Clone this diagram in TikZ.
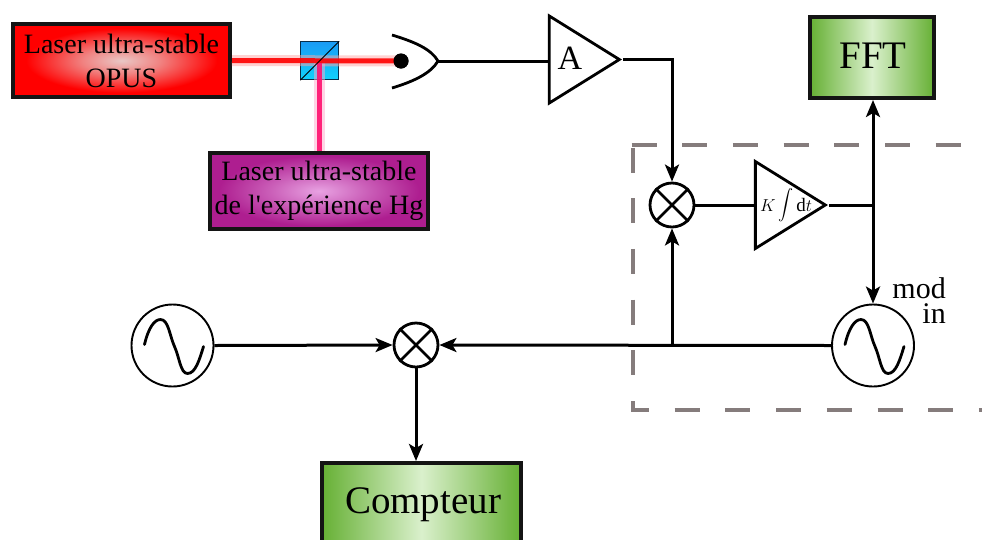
\documentclass[tikz,border=0pt]{standalone}
\usepackage{fontspec}
\usepackage{graphicx}
\setmainfont{Liberation Serif}
\newfontfamily\rawserif{Liberation Serif}
\usetikzlibrary{arrows.meta,shapes.geometric}
\definecolor{dashgray}{HTML}{857C7C}
\definecolor{glowred}{HTML}{E9C8C6}
\definecolor{glowpurple}{HTML}{E8A2E2}
\definecolor{basepurple}{HTML}{AE1E90}
\definecolor{edgegreen}{HTML}{66B034}
\definecolor{midgreen}{HTML}{DAF0CC}
\definecolor{cubetop}{HTML}{1A9BF5}
\definecolor{cubebottom}{HTML}{10D2FC}
\definecolor{hgbeamcol}{HTML}{FF0F6E}
\pgfdeclareradialshading{redglow}{\pgfpointorigin}{color(0bp)=(glowred); color(9bp)=(glowred!65!red); color(22bp)=(red); color(50bp)=(red)}
\pgfdeclareradialshading{purpleglow}{\pgfpointorigin}{color(0bp)=(glowpurple); color(11bp)=(glowpurple!50!basepurple); color(23bp)=(basepurple); color(50bp)=(basepurple)}
\tikzset{
  boxbase/.style={draw=black!92,line width=4pt,rectangle,inner sep=0pt,align=center},
  lasertext/.style={font=\fontsize{28}{35}\selectfont},
  greentext/.style={font=\fontsize{39}{44}\selectfont},
  greenbox/.style={boxbase,left color=edgegreen,right color=edgegreen,middle color=midgreen,greentext},
  wire/.style={line width=3pt,black},
  arrowwire/.style={wire,-{Stealth[length=17pt,width=14pt,inset=4pt]}},
  bothwire/.style={wire,{Stealth[length=17pt,width=14pt,inset=4pt]}-{Stealth[length=17pt,width=14pt,inset=4pt]}},
  mixer/.style={circle,draw,line width=2.8pt,minimum size=44pt,inner sep=0pt,fill=white},
  osc/.style={circle,draw,line width=1.9pt,minimum size=82pt,inner sep=0pt,fill=white},
  amp/.style={isosceles triangle,isosceles triangle stretches,draw,line width=2.8pt,inner sep=0pt,fill=white,shape border rotate=0},
  beamhalo/.style={line width=11pt,opacity=.5},
  beamcore/.style={line width=5pt,opacity=.9},
  dashedbox/.style={dashgray,line width=3.6pt,dash pattern=on 25pt off 25.7pt},
  sine/.style={line width=2.8pt,line cap=round},
  modlabel/.style={font=\fontsize{30}{30}\selectfont,inner sep=0pt,anchor=base east},
}
\newcommand{\mixcross}[1]{%
  \draw[line width=2.8pt] (#1.45) -- (#1.225) (#1.135) -- (#1.315);}
\newcommand{\sinewave}[1]{%
  \draw[sine,shift={(#1)}] (-28,-1) .. controls (-24,-18) and (-18,-26) .. (-12,-26)
    .. controls (-4,-26) and (-3,-10) .. (2,1)
    .. controls (7,12) and (8,28) .. (15,28)
    .. controls (23,28) and (27,14) .. (31,1);}
\begin{document}
\begin{tikzpicture}[x=1pt,y=-1pt]
\clip (0,0) rectangle (982,539);
\fill[white] (0,0) rectangle (982,539);

% dashed frame
\coordinate (frameTL) at (633,147.5);
\coordinate (frameBL) at (633,410);
\coordinate (frameBR) at (990,410);
\coordinate (frameTS) at (631.5,145);
\coordinate (frameTR) at (990,145);
\draw[dashedbox] (frameTL) -- (frameBL) -- (frameBR);
\draw[dashedbox] (frameTS) -- (frameTR);

% optical part
\node[draw=black!70!cubetop,line width=.9pt,minimum size=38pt,inner sep=0pt,top color=cubetop,bottom color=cubebottom] (cube) at (319.8,60.8) {};

\node[boxbase,minimum width=217pt,minimum height=73pt,shading=redglow,lasertext] (opus) at (121.5,60.5) {Laser ultra-stable\\[-1pt]OPUS};
\node[boxbase,minimum width=218pt,minimum height=76pt,shading=purpleglow,lasertext] (hg) at (319,191) {Laser ultra-stable\\[-1pt]de l{\rawserif '}expérience Hg};

\node[circle,fill=black,minimum size=15pt,inner sep=0pt] (det) at (401,61) {};
\coordinate (hgbeam) at (319.5,151);

\draw[beamhalo,color=red!35] (opus.east) -- (det.center);
\draw[beamhalo,color=hgbeamcol!35] (hgbeam) -- (319.5,61);
\draw[beamcore,color=red] (opus.east) -- (det.center);
\draw[line width=5.5pt,opacity=.9,color=hgbeamcol] (hgbeam) -- (319.5,63);
\node[circle,fill=black,minimum size=15pt,inner sep=0pt] at (det) {};
\draw[line width=.9pt] (cube.south west) -- (cube.north east);

\coordinate (detA) at (392,35);
\coordinate (detT) at (438,61);
\coordinate (detB) at (392,88);
\draw[line width=2.8pt] (detA) .. controls (415,42) and (431,49) .. (detT) .. controls (431,73) and (415,81) .. (detB);

% amplifier
\node[amp,minimum height=70pt,minimum width=87pt,anchor=apex] (A) at (623,59.5) {};
\node[font=\fontsize{34}{36}\selectfont] (Atext) at (570,58) {A};

% mixers
\node[mixer] (mixtop) at (672,205) {};
\mixcross{mixtop}
\node[mixer] (mixlow) at (416,345) {};
\mixcross{mixlow}

% integrator
\node[amp,minimum height=70pt,minimum width=87pt,anchor=apex] (int) at (829,205) {};
\node[font=\fontsize{19}{21}\selectfont,inner sep=0pt] (inttext) at (786,205) {$K\,\scalebox{1.5}{$\displaystyle\int$}\,\mathrm{d}t$};

% oscillators
\node[osc] (vco) at (873,345.5) {};
\sinewave{vco.center}
\node[osc] (ref) at (172.5,345.5) {};
\sinewave{ref.center}
\node[modlabel] (modlab) at (946,298) {mod};
\node[modlabel] (inlab) at (946,323) {in};

% output boxes
\node[greenbox,minimum width=124pt,minimum height=81pt] (fft) at (872,57.5) {};
\node[greentext,inner sep=0pt,anchor=base] (ffttext) at (873,68) {FFT};
\node[greenbox,minimum width=199pt,minimum height=100pt,anchor=north] (cpt) at (421.5,461) {};
\node[greentext,inner sep=0pt,anchor=base] (cpttext) at (423,513) {Compteur};

% connectors
\coordinate (ampcorner) at (672,59.5);
\coordinate (fork) at (873,205);
\coordinate (tee) at (672,345.5);
\draw[wire] (detT) -- (A.west |- detT);
\draw[arrowwire] (A.apex) -- (ampcorner) -- (mixtop.north);
\draw[wire] (mixtop.east) -- (int.west |- mixtop.east);
\draw[wire] (int.apex) -- (fork);
\draw[bothwire] (fft.south -| fork) -- (vco.north);
\draw[arrowwire] (vco.west) -- (mixlow.east);
\draw[arrowwire] (tee) -- (mixtop.south);
\draw[arrowwire] (ref.east) -- (mixlow.west);
\draw[arrowwire] (mixlow.south) -- (cpt.north -| mixlow.south);
\end{tikzpicture}
\end{document}
